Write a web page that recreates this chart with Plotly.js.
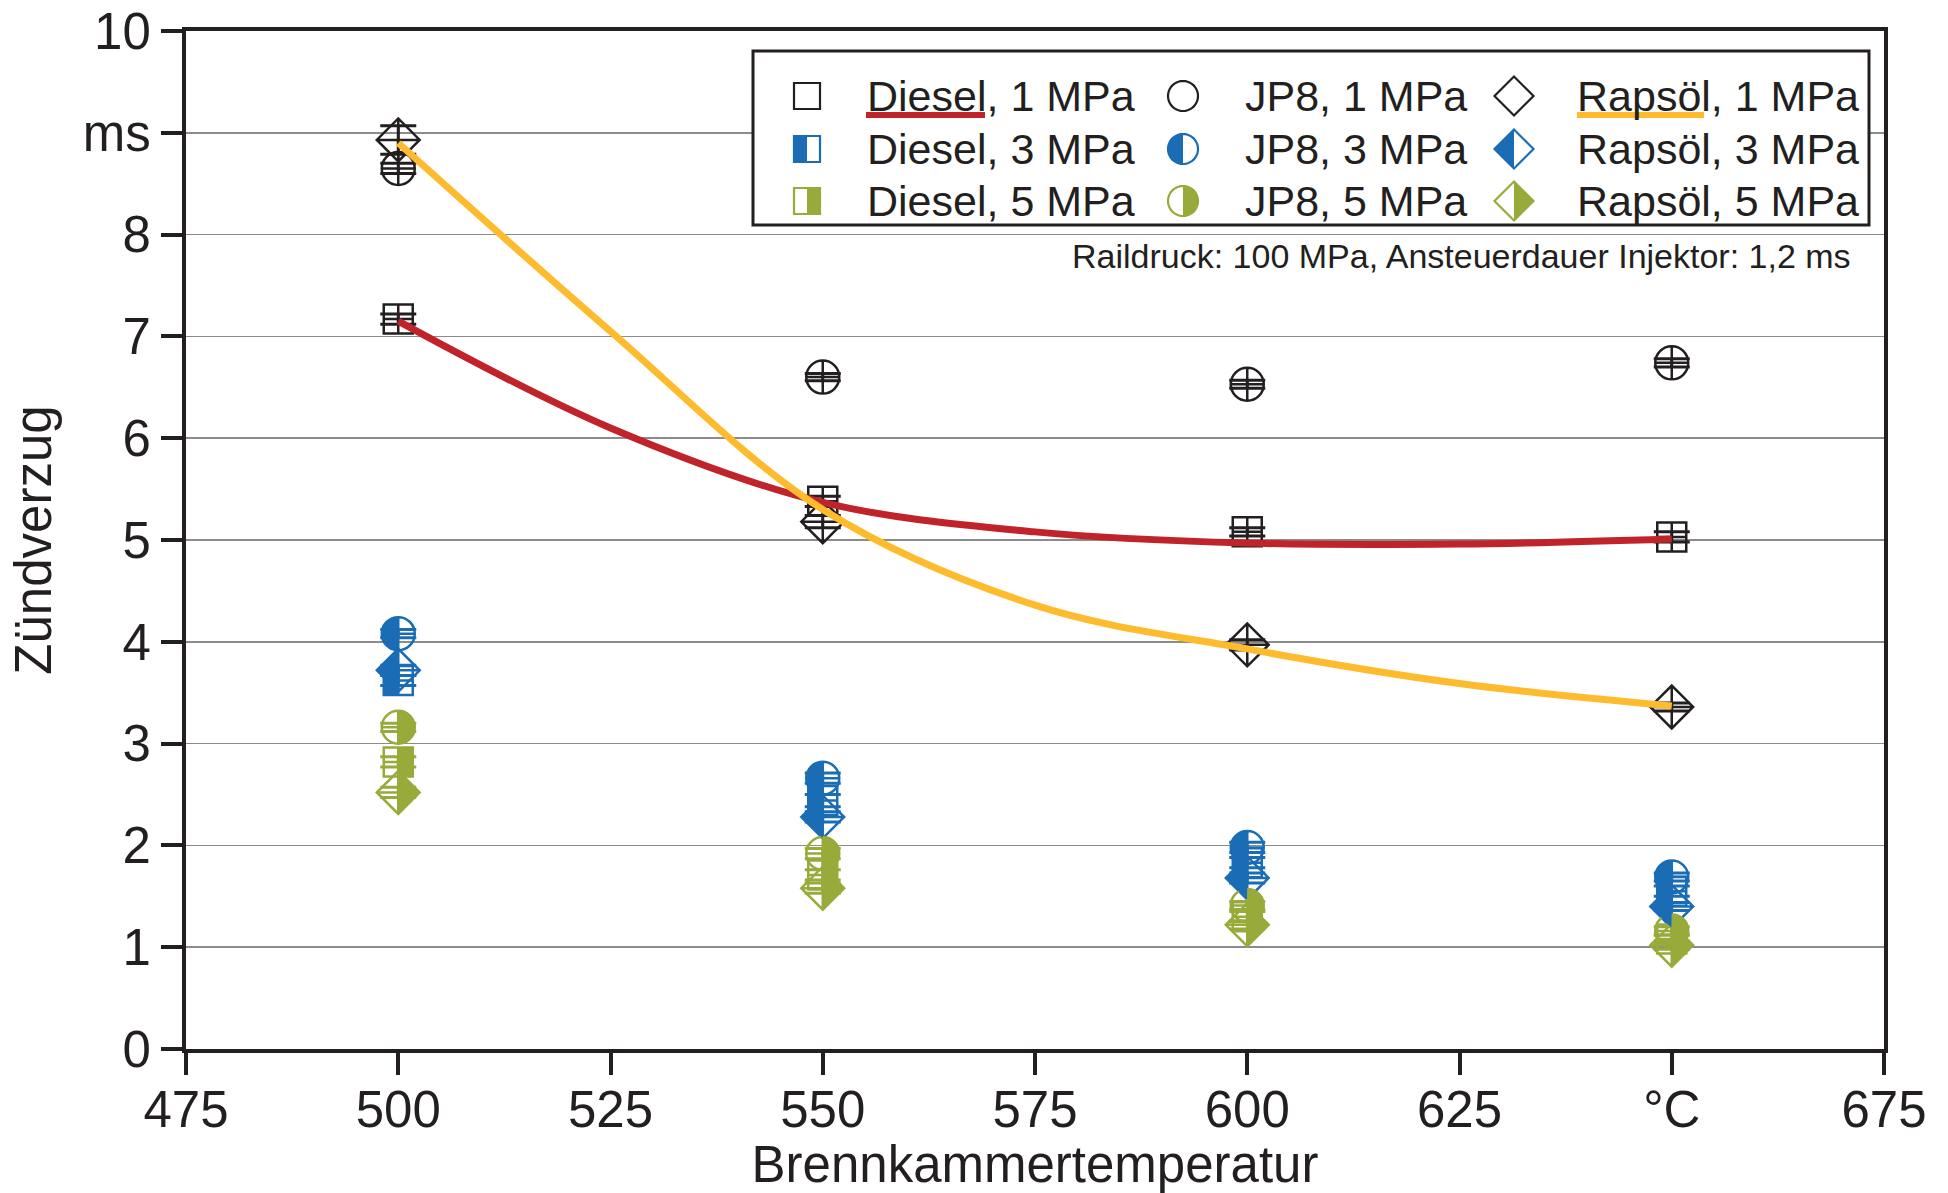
<!DOCTYPE html>
<html>
<head>
<meta charset="utf-8">
<script src="https://cdn.plot.ly/plotly-3.0.1.min.js"></script>
<style>html,body{margin:0;padding:0;background:#fff;}#chart{width:1948px;height:1193px;}</style>
</head>
<body>
<div id="chart"></div>
<script>
// ---------- data ----------
const temps = [500, 550, 600, 650];

const diesel1 = [7.17, 5.38, 5.08, 5.03];
const jp8_1   = [8.65, 6.60, 6.53, 6.74];
const raps1   = [8.93, 5.18, 3.97, 3.36];
const diesel3 = [3.62, 2.44, 1.83, 1.55];
const jp8_3   = [4.08, 2.66, 1.98, 1.69];
const raps3   = [3.72, 2.28, 1.68, 1.40];
const diesel5 = [2.82, 1.71, 1.30, 1.08];
const jp8_5   = [3.16, 1.92, 1.41, 1.16];
const raps5   = [2.52, 1.58, 1.22, 1.02];

const diesel1Err = [0.05, 0.05, 0.04, 0.05];
const jp8_1Err   = [0.05, 0.035, 0.04, 0.04];
const raps1Err   = [0.14, 0.06, 0.05, 0.04];
const diesel3Err = [0.05, 0.06, 0.05, 0.05];
const jp8_3Err   = [0.04, 0.05, 0.05, 0.04];
const raps3Err   = [0.05, 0.05, 0.05, 0.04];
const diesel5Err = [0.05, 0.05, 0.05, 0.04];
const jp8_5Err   = [0.04, 0.05, 0.04, 0.04];
const raps5Err   = [0.05, 0.05, 0.04, 0.04];

const fitTemps  = [500, 525, 550, 575, 600, 625, 650];
const dieselFit = [7.15, 6.10, 5.37, 5.08, 4.97, 4.96, 5.01];
const rapsFit   = [8.90, 7.05, 5.30, 4.36, 3.93, 3.59, 3.37];

const xTickVals = [475, 500, 525, 550, 575, 600, 625, 650, 675];
const xTickText = ['475', '500', '525', '550', '575', '600', '625', '°C', '675'];
const yTickVals = [0, 1, 2, 3, 4, 5, 6, 7, 8, 9, 10];
const yTickText = ['0', '1', '2', '3', '4', '5', '6', '7', '8', 'ms', '10'];

const legendLabels = [
  ['Diesel, 1 MPa', 'JP8, 1 MPa', 'Rapsöl, 1 MPa'],
  ['Diesel, 3 MPa', 'JP8, 3 MPa', 'Rapsöl, 3 MPa'],
  ['Diesel, 5 MPa', 'JP8, 5 MPa', 'Rapsöl, 5 MPa']
];
const noteText = 'Raildruck: 100 MPa, Ansteuerdauer Injektor: 1,2 ms';
const xTitle = 'Brennkammertemperatur';
const yTitle = 'Zündverzug';

// ---------- styles ----------
const INK = '#231f20';
const BLUE = '#1a6cb5';
const GREEN = '#98aa3a';
const RED = '#c1232b';
const YELLOW = '#fdbb2d';
const FONT = 'Liberation Sans, Arial, Helvetica, sans-serif';

const symSize = {square: 29, circle: 33, diamond: 33};

const series = [
  {y: diesel1, e: diesel1Err, sym: 'square',  color: INK,   side: null},
  {y: jp8_1,   e: jp8_1Err,   sym: 'circle',  color: INK,   side: null},
  {y: raps1,   e: raps1Err,   sym: 'diamond', color: INK,   side: null},
  {y: raps3,   e: raps3Err,   sym: 'diamond', color: BLUE,  side: 'left'},
  {y: diesel3, e: diesel3Err, sym: 'square',  color: BLUE,  side: 'left'},
  {y: jp8_3,   e: jp8_3Err,   sym: 'circle',  color: BLUE,  side: 'left'},
  {y: raps5,   e: raps5Err,   sym: 'diamond', color: GREEN, side: 'right'},
  {y: diesel5, e: diesel5Err, sym: 'square',  color: GREEN, side: 'right'},
  {y: jp8_5,   e: jp8_5Err,   sym: 'circle',  color: GREEN, side: 'right'}
];
const seriesNames = ['Diesel, 1 MPa','JP8, 1 MPa','Rapsöl, 1 MPa','Rapsöl, 3 MPa','Diesel, 3 MPa','JP8, 3 MPa','Rapsöl, 5 MPa','Diesel, 5 MPa','JP8, 5 MPa'];

// half-filled glyph path (pixel units around anchor)
function halfPath(sym, side, size) {
  const s = side === 'left' ? -1 : 1;
  const r = size / 2;
  if (sym === 'square') {
    return `M${s*r},${-r}L0,${-r}L0,${r}L${s*r},${r}Z`;
  }
  if (sym === 'diamond') {
    const w = r * 1.3;
    return `M0,${-w}L${s*w},0L0,${w}Z`;
  }
  let p = '';
  const n = 28;
  for (let i = 0; i <= n; i++) {
    const a = -Math.PI / 2 + Math.PI * i / n;
    const px = s * r * Math.cos(a), py = r * Math.sin(a);
    p += (i === 0 ? 'M' : 'L') + px.toFixed(2) + ',' + py.toFixed(2);
  }
  return p + 'Z';
}
function fullPath(sym, size) {
  const r = size / 2;
  if (sym === 'square') return `M${-r},${-r}L${r},${-r}L${r},${r}L${-r},${r}Z`;
  if (sym === 'diamond') { const w = r * 1.3; return `M0,${-w}L${w},0L0,${w}L${-w},0Z`; }
  let p = '';
  const n = 40;
  for (let i = 0; i < n; i++) {
    const a = 2 * Math.PI * i / n;
    p += (i === 0 ? 'M' : 'L') + (r*Math.cos(a)).toFixed(2) + ',' + (r*Math.sin(a)).toFixed(2);
  }
  return p + 'Z';
}

const traces = [];
const shapes = [];

series.forEach((s, i) => {
  traces.push({
    type: 'scatter', mode: 'markers', name: seriesNames[i], showlegend: false,
    x: temps, y: s.y,
    marker: {symbol: s.sym + '-cross-open', size: symSize[s.sym], color: s.color, line: {width: 2.5, color: s.color}},
    error_y: {type: 'data', array: s.e, visible: true, color: s.color, thickness: 3, width: 18}
  });
  if (s.side) {
    temps.forEach((t, j) => {
      shapes.push({
        type: 'path', xref: 'x', yref: 'y', xsizemode: 'pixel', ysizemode: 'pixel',
        xanchor: t, yanchor: s.y[j], path: halfPath(s.sym, s.side, symSize[s.sym]),
        fillcolor: s.color, line: {width: 0}, layer: 'above'
      });
    });
  }
});

traces.push({
  type: 'scatter', mode: 'lines', name: 'Diesel Ausgleich', showlegend: false,
  x: fitTemps, y: dieselFit, line: {color: RED, width: 7, shape: 'spline', smoothing: 1}
});
traces.push({
  type: 'scatter', mode: 'lines', name: 'Rapsöl Ausgleich', showlegend: false,
  x: fitTemps, y: rapsFit, line: {color: YELLOW, width: 7, shape: 'spline', smoothing: 1}
});

// ---------- manual legend ----------
const L = 186, R = 1884, T = 31, B = 1049;
const px = v => (v - L) / (R - L);
const py = v => (B - v) / (B - T);

shapes.push({type: 'rect', xref: 'paper', yref: 'paper', x0: px(753), x1: px(1869), y0: py(51), y1: py(225),
  line: {color: INK, width: 3}, fillcolor: '#ffffff', layer: 'above'});

const colX = [807, 1183, 1514];
const textX = [866, 1244, 1576];
const rowY = [96, 149, 201];
const legSyms = ['square', 'circle', 'diamond'];
const legSize = {square: 26, circle: 30, diamond: 30};
const rowColor = [INK, BLUE, GREEN];
const rowSide = [null, 'left', 'right'];

const annotations = [];
for (let r = 0; r < 3; r++) {
  for (let c = 0; c < 3; c++) {
    const sym = legSyms[c];
    shapes.push({type: 'path', xref: 'paper', yref: 'paper', xsizemode: 'pixel', ysizemode: 'pixel',
      xanchor: px(colX[c]), yanchor: py(rowY[r]), path: fullPath(sym, legSize[sym]),
      fillcolor: 'rgba(0,0,0,0)', line: {color: rowColor[r], width: 2.2}, layer: 'above'});
    if (rowSide[r]) {
      shapes.push({type: 'path', xref: 'paper', yref: 'paper', xsizemode: 'pixel', ysizemode: 'pixel',
        xanchor: px(colX[c]), yanchor: py(rowY[r]), path: halfPath(sym, rowSide[r], legSize[sym]),
        fillcolor: rowColor[r], line: {width: 0}, layer: 'above'});
    }
    annotations.push({xref: 'paper', yref: 'paper', x: px(textX[c]), y: py(rowY[r]), xanchor: 'left', yanchor: 'middle',
      text: legendLabels[r][c], showarrow: false, font: {family: FONT, size: 43, color: INK}, borderpad: 0});
  }
}
// fit-line samples under the fuel names
shapes.push({type: 'line', xref: 'paper', yref: 'paper', x0: px(866), x1: px(985), y0: py(115), y1: py(115),
  line: {color: RED, width: 6}, layer: 'above'});
shapes.push({type: 'line', xref: 'paper', yref: 'paper', x0: px(1577), x1: px(1704), y0: py(115), y1: py(115),
  line: {color: YELLOW, width: 6}, layer: 'above'});

annotations.push({xref: 'paper', yref: 'paper', x: px(1852), y: py(256), xanchor: 'right', yanchor: 'middle',
  text: noteText, showarrow: false, font: {family: FONT, size: 34, color: INK}, borderpad: 0});

const axisCommon = {
  showline: true, linewidth: 4, linecolor: INK, mirror: true,
  ticks: 'outside', tickwidth: 4, tickcolor: INK,
  zeroline: false, tickfont: {family: FONT, size: 51, color: INK}
};

const layout = {
  width: 1948, height: 1193,
  margin: {l: L, r: 1948 - R, t: T, b: 1193 - B, pad: 0},
  paper_bgcolor: '#ffffff', plot_bgcolor: '#ffffff',
  font: {family: FONT, color: INK},
  showlegend: false,
  xaxis: Object.assign({}, axisCommon, {
    range: [475, 675], tickmode: 'array', tickvals: xTickVals, ticktext: xTickText,
    ticklen: 22, showgrid: false, ticklabelstandoff: -9,
    title: {text: xTitle, font: {family: FONT, size: 51, color: INK}, standoff: 22}
  }),
  yaxis: Object.assign({}, axisCommon, {
    range: [0, 10], tickmode: 'array', tickvals: yTickVals, ticktext: yTickText,
    ticklen: 21, showgrid: true, gridcolor: '#8c8c8c', gridwidth: 1.5,
    title: {text: yTitle, font: {family: FONT, size: 51, color: INK}, standoff: 16}
  }),
  shapes: shapes,
  annotations: annotations
};

Plotly.newPlot('chart', traces, layout, {staticPlot: true, displayModeBar: false});
</script>
</body>
</html>
